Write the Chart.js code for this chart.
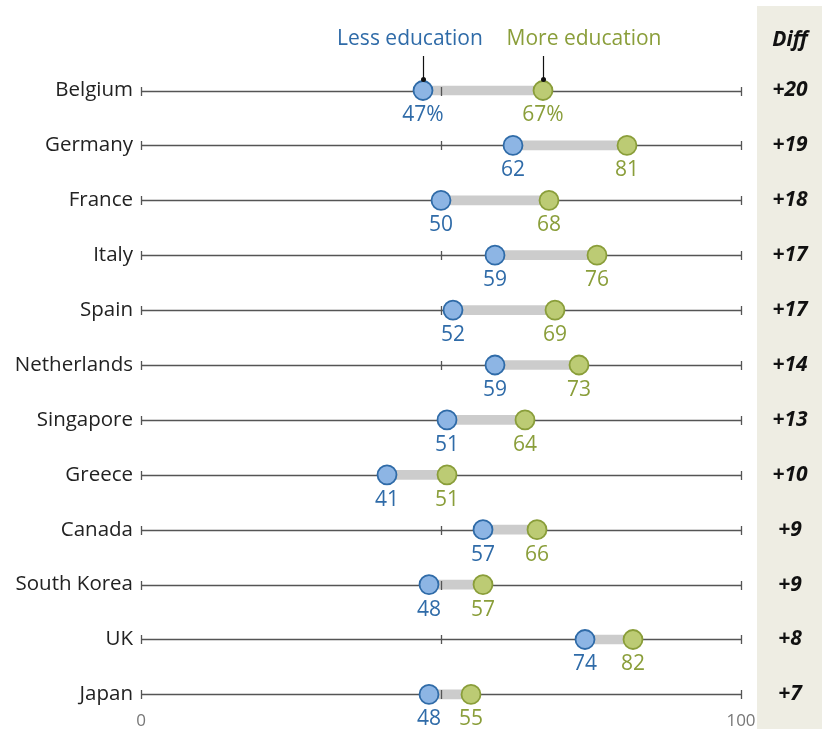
<!DOCTYPE html>
<html>
<head>
<meta charset="utf-8">
<script src="https://cdn.jsdelivr.net/npm/chart.js@4"></script>
<style>
  html, body { margin: 0; padding: 0; background: #fff; }
  #wrap { width: 822px; height: 729px; position: relative; }
</style>
</head>
<body>
<div id="wrap"><canvas id="myChart" width="822" height="729"></canvas></div>
<script>
const countries = ['Belgium', 'Germany', 'France', 'Italy', 'Spain', 'Netherlands', 'Singapore', 'Greece', 'Canada', 'South Korea', 'UK', 'Japan'];
const lessEdu = [47, 62, 50, 59, 52, 59, 51, 41, 57, 48, 74, 48];
const moreEdu = [67, 81, 68, 76, 69, 73, 64, 51, 66, 57, 82, 55];
const diffs = ['+20', '+19', '+18', '+17', '+17', '+14', '+13', '+10', '+9', '+9', '+8', '+7'];
const axisTicks = [0, 50, 100];

const BLUE = '#2f6ba8';
const GREEN = '#8a9e3a';
const FONT = '"Open Sans", Roboto, sans-serif';

const ctx = document.getElementById('myChart');

const dumbbellPlugin = {
  id: 'dumbbell',
  beforeDraw(chart) {
    const c = chart.ctx;
    // Diff column background
    c.save();
    c.fillStyle = '#eeede3';
    c.fillRect(757, 6, 65, 723);
    c.restore();
  },
  beforeDatasetsDraw(chart) {
    const c = chart.ctx, x = chart.scales.x, y = chart.scales.y;
    c.save();
    c.strokeStyle = '#555';
    c.lineWidth = 1.3;
    countries.forEach((name, i) => {
      const py = Math.round(y.getPixelForValue(i)) + 0.5;
      c.beginPath();
      c.moveTo(x.getPixelForValue(0), py);
      c.lineTo(x.getPixelForValue(100), py);
      c.stroke();
    });
    c.restore();
  },
  afterDatasetDraw(chart, args) {
    if (args.index !== 0) return;
    const c = chart.ctx, x = chart.scales.x, y = chart.scales.y;
    c.save();
    c.strokeStyle = '#555';
    c.lineWidth = 1.3;
    countries.forEach((name, i) => {
      const py = Math.round(y.getPixelForValue(i)) + 0.5;
      axisTicks.forEach(t => {
        const px = Math.round(x.getPixelForValue(t)) + 0.5;
        c.beginPath();
        c.moveTo(px, py - 4.5);
        c.lineTo(px, py + 4.5);
        c.stroke();
      });
    });
    c.restore();
  },
  afterDatasetsDraw(chart) {
    const c = chart.ctx, x = chart.scales.x, y = chart.scales.y;
    c.save();
    c.textBaseline = 'middle';
    countries.forEach((name, i) => {
      const py = y.getPixelForValue(i);
      // country label
      c.font = '20.5px ' + FONT;
      c.fillStyle = '#222';
      c.textAlign = 'right';
      c.fillText(name, 133, py);
      // value labels
      c.font = '21px ' + FONT;
      c.textAlign = 'center';
      const suffix = i === 0 ? '%' : '';
      c.fillStyle = BLUE;
      c.fillText(lessEdu[i] + suffix, x.getPixelForValue(lessEdu[i]), py + 25);
      c.fillStyle = GREEN;
      c.fillText(moreEdu[i] + suffix, x.getPixelForValue(moreEdu[i]), py + 25);
      // diff
      c.font = 'italic bold 21px ' + FONT;
      c.fillStyle = '#111';
      c.fillText(diffs[i], 790, py);
    });
    // header
    c.font = 'italic bold 21px ' + FONT;
    c.fillStyle = '#111';
    c.fillText('Diff', 790, 40);
    c.font = '21px ' + FONT;
    c.fillStyle = BLUE;
    c.fillText('Less education', 410, 39);
    c.fillStyle = GREEN;
    c.fillText('More education', 584, 39);
    // callouts
    const py0 = y.getPixelForValue(0);
    [lessEdu[0], moreEdu[0]].forEach(v => {
      const px = Math.round(x.getPixelForValue(v)) + 0.5;
      c.strokeStyle = '#111';
      c.lineWidth = 1.2;
      c.beginPath();
      c.moveTo(px, 56);
      c.lineTo(px, py0 - 10);
      c.stroke();
      c.fillStyle = '#111';
      c.beginPath();
      c.arc(px, py0 - 11, 2.5, 0, Math.PI * 2);
      c.fill();
    });
    // x tick labels
    c.font = '17px ' + FONT;
    c.fillStyle = '#777';
    c.fillText('0', x.getPixelForValue(0), 721);
    c.fillText('100', x.getPixelForValue(100), 721);
    c.restore();
  }
};

new Chart(ctx, {
  type: 'bar',
  data: {
    labels: countries,
    datasets: [
      {
        label: 'gap',
        data: lessEdu.map((v, i) => [v, moreEdu[i]]),
        backgroundColor: '#cccccc',
        barThickness: 9,
        order: 3
      },
      {
        type: 'line',
        label: 'More education',
        indexAxis: 'y',
        data: moreEdu,
        showLine: false,
        pointRadius: 9.5,
        pointBackgroundColor: '#bccb74',
        pointBorderColor: GREEN,
        pointBorderWidth: 1.8,
        order: 2
      },
      {
        type: 'line',
        label: 'Less education',
        indexAxis: 'y',
        data: lessEdu,
        showLine: false,
        pointRadius: 9.5,
        pointBackgroundColor: '#8db5e4',
        pointBorderColor: BLUE,
        pointBorderWidth: 1.8,
        order: 1
      }
    ]
  },
  options: {
    indexAxis: 'y',
    responsive: false,
    animation: false,
    layout: { autoPadding: false, padding: { left: 141, right: 81, top: 63.05, bottom: 7.15 } },
    scales: {
      x: { type: 'linear', min: 0, max: 100, display: false },
      y: { type: 'category', offset: true, display: false }
    },
    plugins: {
      legend: { display: false },
      tooltip: { enabled: false }
    }
  },
  plugins: [dumbbellPlugin]
});
</script>
</body>
</html>
